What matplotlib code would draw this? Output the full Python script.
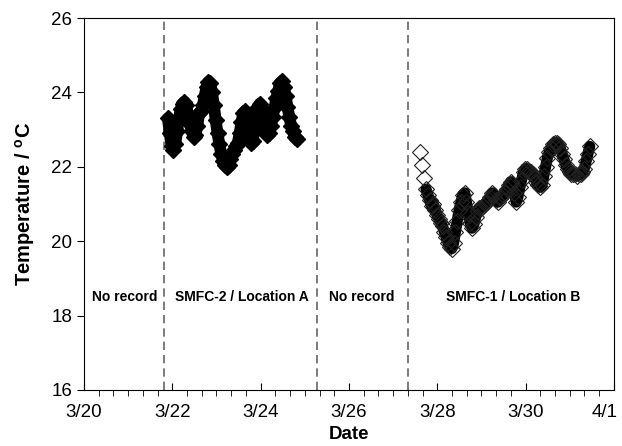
import numpy as np
import matplotlib
matplotlib.use("Agg")
import matplotlib.pyplot as plt
import matplotlib.transforms as mtransforms
from matplotlib.ticker import MultipleLocator

plt.rcParams['font.family'] = ['Liberation Sans', 'DejaVu Sans']

# days counted from 3/20 00:00, hourly logger readings
start_smfc2 = 1.90
temp_smfc2 = [23.30, 22.90, 22.55, 22.45, 22.60, 22.95, 23.30, 23.55, 23.70, 23.75,
              23.65, 23.40, 23.15, 22.95, 22.80, 22.85, 23.10, 23.45, 23.50, 23.65,
              23.90, 24.15, 24.28, 24.25, 24.00, 23.65, 23.25, 22.90, 22.60, 22.35,
              22.15, 22.05, 22.00, 22.05, 22.20, 22.35, 22.45, 22.55, 22.65, 22.90,
              23.20, 23.45, 23.50, 23.20, 22.85, 22.65, 22.70, 22.95, 23.30, 23.60,
              23.70, 23.55, 23.25, 22.95, 22.85, 22.90, 23.10, 23.35, 23.60, 23.85,
              24.05, 24.25, 24.30, 24.15, 23.90, 23.60, 23.35, 23.10, 22.95, 22.80,
              22.75]

start_smfc1 = 7.62
temp_smfc1 = [22.40, 22.05, 21.70, 21.40, 21.25, 21.10, 20.95, 21.00, 20.85, 20.70,
              20.60, 20.50, 20.40, 20.25, 20.10, 19.95, 19.85, 19.80, 19.95, 20.25,
              20.55, 20.85, 21.05, 21.25, 21.30, 21.05, 20.75, 20.50, 20.35, 20.45,
              20.65, 20.80, 20.90, 20.90, 20.95, 21.00, 21.05, 21.10, 21.20, 21.30,
              21.25, 21.10, 21.05, 21.15, 21.20, 21.25, 21.30, 21.40, 21.50, 21.60,
              21.55, 21.30, 21.05, 21.20, 21.45, 21.65, 21.85, 21.95, 21.95, 21.90,
              21.85, 21.80, 21.70, 21.60, 21.50, 21.45, 21.50, 21.75, 22.00, 22.25,
              22.40, 22.50, 22.60, 22.65, 22.65, 22.60, 22.50, 22.35, 22.20, 22.05,
              21.95, 21.85, 21.80, 21.80, 21.80, 21.75, 21.80, 21.80, 21.85, 21.95,
              22.15, 22.35, 22.55]

tick_days = [0, 2, 4, 6, 8, 10, 12]
tick_labels = ['3/20', '3/22', '3/24', '3/26', '3/28', '3/30', '4/1']
boundaries = [1.81, 5.27, 7.33]
region_text = ['No record', 'SMFC-2 / Location A', 'No record', 'SMFC-1 / Location B']
region_x = [0.92, 3.57, 6.30, 9.73]

t2 = start_smfc2 + np.arange(len(temp_smfc2)) / 24
t1 = start_smfc1 + np.arange(len(temp_smfc1)) / 24

fig = plt.figure(figsize=(6.22, 4.46), dpi=100)
ax = fig.add_axes([0.135, 0.1256, 0.852, 0.834])

# SMFC-2: filled diamonds, dense enough to merge into a band
ax.plot(t2, temp_smfc2, color='black', lw=8.5, solid_joinstyle='round',
        solid_capstyle='round', zorder=2)
ax.plot(t2, temp_smfc2, 'D', color='black', ms=8, zorder=3)
# SMFC-1: open diamonds (first readings stand apart)
ax.plot(t1[3:], temp_smfc1[3:], color='black', lw=8, solid_joinstyle='round',
        solid_capstyle='round', zorder=2)
ax.plot(t1, temp_smfc1, 'D', mfc='none', mec='#222222', mew=0.8, ms=8, zorder=3)

for b in boundaries:
    ax.axvline(b, color='#666666', lw=1.2, dashes=(5, 3), zorder=1)
for txt, x in zip(region_text, region_x):
    ax.text(x, 18.5, txt, ha='center', va='center', fontsize=10, fontweight='bold')

ax.set_xlim(0, 12)
ax.set_ylim(16, 26)
ax.set_xticks(tick_days)
ax.set_xticklabels(tick_labels)
ax.xaxis.set_minor_locator(MultipleLocator(1 / 3))
ax.set_yticks([16, 18, 20, 22, 24, 26])
ax.tick_params(axis='x', which='major', direction='in', length=5, labelsize=13.5, pad=10)
ax.tick_params(axis='x', which='minor', direction='out', length=4)
ax.tick_params(axis='y', direction='out', length=5, labelsize=13.5)
ax.set_xlabel('Date', fontsize=13.5, fontweight='bold', labelpad=4)
ax.set_ylabel('Temperature / $\\mathregular{^{o}}$C', fontsize=14.5, fontweight='bold', labelpad=10)

# keep the last date label inside the figure
last = ax.get_xticklabels()[-1]
last.set_transform(last.get_transform() + mtransforms.ScaledTranslation(-9 / 100, 0, fig.dpi_scale_trans))

fig.savefig('out.png', dpi=100)
